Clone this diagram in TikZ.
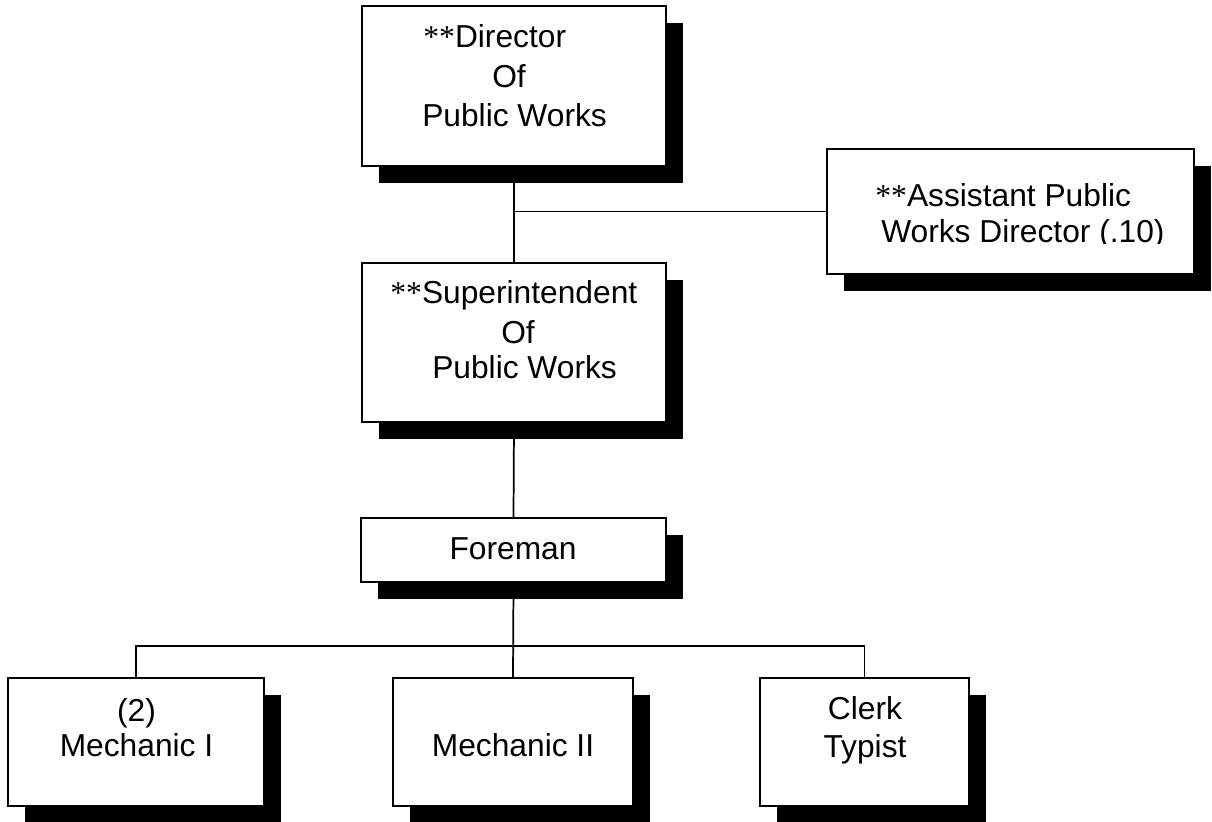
\documentclass[tikz,border=0pt]{standalone}
\usepackage{fontspec}
\setmainfont{Liberation Sans}
\newfontfamily\starfont{Liberation Serif}
\usetikzlibrary{shadows}
\newcommand\stars{{\starfont **}}

\tikzset{
  orgbox/.style={draw=black, line width=1.2pt, fill=white, rectangle, inner sep=0pt,
    drop shadow={shadow xshift=12.75pt, shadow yshift=-12.75pt, fill=black, opacity=1}},
  link/.style={draw=black, line width=1.3pt},
  txtl/.style={inner sep=0pt, anchor=base west, font=\fontsize{23.8pt}{28pt}\selectfont},
  txtc/.style={inner sep=0pt, anchor=base, font=\fontsize{23.8pt}{28pt}\selectfont}
}

\begin{document}
\begin{tikzpicture}[x=0.75pt, y=-0.75pt]
\useasboundingbox (0,0) rectangle (1212,821);

% boxes
\node[orgbox, minimum width=228pt, minimum height=120pt] (dir) at (514,86) {};
\node[orgbox, minimum width=275.25pt, minimum height=93.75pt] (asst) at (1010.5,211.5) {};
\node[orgbox, minimum width=228pt, minimum height=119.25pt] (sup) at (514,342.5) {};
\node[orgbox, minimum width=228.75pt, minimum height=48pt] (fore) at (513.5,550) {};
\node[orgbox, minimum width=192pt, minimum height=96pt] (mech1) at (136,742) {};
\node[orgbox, minimum width=180pt, minimum height=96pt] (mech2) at (513,742) {};
\node[orgbox, minimum width=156.75pt, minimum height=96pt] (clerk) at (864.5,742) {};

% connectors
\draw[link] (dir.south) -- (sup.north);
\draw[link] (asst.west) -- (asst.west -| dir.south);
\draw[link] (sup.south) -- (fore.north);
\draw[link] (fore.south) -- (mech2.north);
\coordinate (bus) at (513,646);
\draw[link] (mech1.north) |- (bus) -| (clerk.north);

% labels
\node[txtl] (dir1) at (423,47) {\stars Director};
\node[txtl] (dir2) at (492,87) {Of};
\node[txtl] (dir3) at (422,126) {Public Works};

\node[txtl] (asst1) at (875,206) {\stars Assistant Public};
\begin{scope}
  % second line is cut off just under its baseline
  \clip (830,150) rectangle (1190,243.5);
  \node[txtl] (asst2) at (881,242) {Works Director (.10)};
\end{scope}

\node[txtl] (sup1) at (390,303) {\stars Superintendent};
\node[txtl] (sup2) at (501,343) {Of};
\node[txtl] (sup3) at (432,378) {Public Works};

\node[txtc] (fore1) at (513,559) {Foreman};

\node[txtc] (mech1a) at (136.5,721) {(2)};
\node[txtc] (mech1b) at (136.5,756) {Mechanic I};
\node[txtc] (mech2a) at (513,756) {Mechanic II};
\node[txtc] (clerka) at (865,719) {Clerk};
\node[txtc] (clerkb) at (865,757) {Typist};
\end{tikzpicture}
\end{document}
